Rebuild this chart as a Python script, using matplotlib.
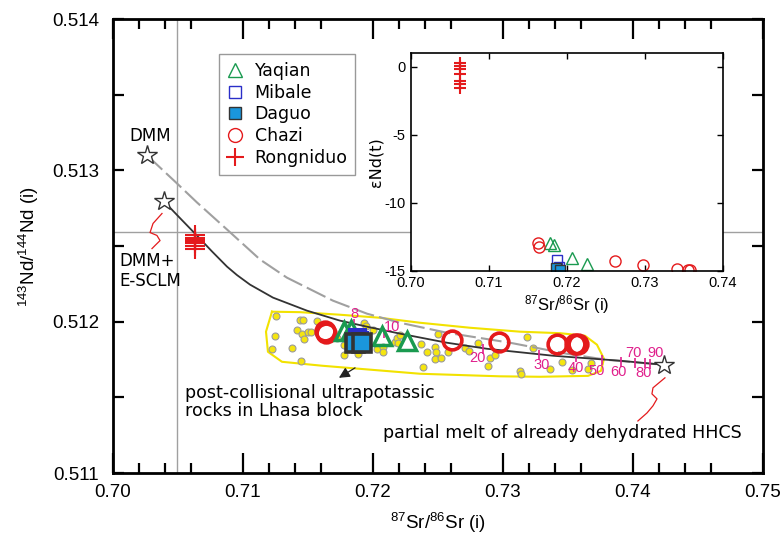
import matplotlib
matplotlib.use("Agg")
import matplotlib.pyplot as plt
from matplotlib.lines import Line2D

plt.rcParams['font.family'] = ['Liberation Sans', 'DejaVu Sans']
plt.rcParams['mathtext.fontset'] = 'custom'
plt.rcParams['mathtext.rm'] = 'Liberation Sans'
plt.rcParams['mathtext.it'] = 'Liberation Sans:italic'
WIDE = ['DejaVu Sans']

# ---- sample data (87Sr/86Sr shared by main plot and inset) ----
yaqian_sr = [0.7178, 0.7183, 0.7207, 0.7226]
yaqian_nd = [0.511940, 0.511947, 0.511907, 0.511874]
yaqian_end = [-12.94, -13.11, -14.04, -14.53]

mibale_sr = [0.71877, 0.71892]
mibale_nd = [0.511901, 0.511881]
mibale_end = [-14.21, -14.70]

daguo_sr = [0.71862, 0.71915]
daguo_nd = [0.511861, 0.511861]
daguo_end = [-14.82, -14.92]

chazi_sr = [0.71632, 0.71641, 0.72610, 0.72970, 0.73415, 0.73556, 0.73577]
chazi_nd = [0.511940, 0.511925, 0.511881, 0.511868, 0.511854, 0.511854, 0.511854]
chazi_end = [-12.99, -13.28, -14.26, -14.58, -14.90, -14.92, -14.92]

rong_sr = [0.70631] * 7
rong_nd = [0.512570, 0.512553, 0.512545, 0.512536, 0.512520, 0.512500, 0.512481]
rong_sr_i = [0.70628] * 7
rong_end = [0.25, 0.05, -0.19, -0.49, -1.03, -1.27, -1.59]

# post-collisional ultrapotassic rocks (Lhasa block)
lhasa_sr = [0.71254, 0.71438, 0.71462, 0.71569, 0.71415, 0.71454, 0.71500, 0.71523,
            0.71469, 0.71246, 0.71223, 0.71377, 0.71446, 0.71723, 0.71777, 0.71777,
            0.71931, 0.71946, 0.72000, 0.72031, 0.72077, 0.72077, 0.71885, 0.72169,
            0.72185, 0.72192, 0.72208, 0.72369, 0.72415, 0.72477, 0.72485, 0.72477,
            0.72523, 0.72577, 0.72500, 0.72385, 0.72708, 0.72738, 0.72808, 0.72900,
            0.72938, 0.72885, 0.73185, 0.73231, 0.73454, 0.73362, 0.73131, 0.73138,
            0.73531, 0.73654, 0.73677]
lhasa_nd = [0.512040, 0.512013, 0.512013, 0.512007, 0.511947, 0.511921, 0.511934, 0.511934,
            0.511887, 0.511907, 0.511821, 0.511828, 0.511742, 0.511894, 0.511848, 0.511781,
            0.511993, 0.511974, 0.511947, 0.511821, 0.511834, 0.511801, 0.511788, 0.511868,
            0.511894, 0.511861, 0.511914, 0.511854, 0.511801, 0.511834, 0.511801, 0.511755,
            0.511762, 0.511801, 0.511921, 0.511702, 0.511828, 0.511808, 0.511861, 0.511762,
            0.511781, 0.511709, 0.511901, 0.511828, 0.511735, 0.511689, 0.511675, 0.511656,
            0.511682, 0.511689, 0.511728]

# envelope of the Lhasa field
env_sr = [0.71223, 0.71438, 0.71746, 0.72054, 0.72362, 0.72746, 0.73131, 0.73438, 0.73631,
          0.73723, 0.73777, 0.73754, 0.73654, 0.73285, 0.72977, 0.72362, 0.72092, 0.71608,
          0.71300, 0.71192, 0.71177, 0.71223]
env_nd = [0.512066, 0.512063, 0.512046, 0.512026, 0.511993, 0.511960, 0.511934, 0.511924,
          0.511907, 0.511848, 0.511755, 0.511675, 0.511642, 0.511636, 0.511639, 0.511656,
          0.511675, 0.511709, 0.511735, 0.511801, 0.511934, 0.512066]

# end members
dmm = (0.70262, 0.513099)
dmm_sclm = (0.70392, 0.512795)
hhcs = (0.74238, 0.511715)

# mixing curves
mix1_sr = [0.70392, 0.70515, 0.70638, 0.70762, 0.70877, 0.70954, 0.71054, 0.71231, 0.71492,
           0.71746, 0.71954, 0.72208, 0.72569, 0.72877, 0.73385, 0.73900, 0.74238]
mix1_nd = [0.512795, 0.512685, 0.512576, 0.512464, 0.512364, 0.512308, 0.512245, 0.512159,
           0.512073, 0.512007, 0.511967, 0.511921, 0.511861, 0.511821, 0.511775, 0.511742, 0.511715]
mix2_sr = [0.70262, 0.70492, 0.70646, 0.70885, 0.71131, 0.71338, 0.71692, 0.71954,
           0.72208, 0.72569, 0.73054, 0.73492, 0.73800, 0.74238]
mix2_nd = [0.513099, 0.512914, 0.512788, 0.512603, 0.512411, 0.512291, 0.512139, 0.512053,
           0.511993, 0.511927, 0.511861, 0.511788, 0.511748, 0.511715]

# melt-fraction marks on the mixing curve
frac_labels = ['8', '10', '20', '30', '40', '50', '60', '70', '80', '90']
frac_sr = [0.71854, 0.72085, 0.72846, 0.73277, 0.73562, 0.73762, 0.73908, 0.74015, 0.74092, 0.74131]
frac_nd = [0.511987, 0.511927, 0.511821, 0.511781, 0.511768, 0.511748, 0.511735, 0.511728, 0.511725, 0.511722]
frac_offsets = [(0, 7), (6, 4), (-4, -7), (2, -7), (0, -8), (-4, -8), (-2, -7), (-1, 7), (-1, -7), (4, 8)]

# red squiggles
sq1_sr = [0.70377, 0.70308, 0.70285, 0.70338, 0.70362, 0.70323, 0.70300]
sq1_nd = [0.512715, 0.512649, 0.512589, 0.512570, 0.512536, 0.512503, 0.512483]
sq2_sr = [0.74246, 0.74154, 0.74146, 0.74185, 0.74154, 0.74108, 0.74038]
sq2_nd = [0.511629, 0.511563, 0.511523, 0.511490, 0.511444, 0.511397, 0.511344]

sr_ref = 0.7049
nd_ref = 0.51259

GREEN = '#1a9a50'
BLUE_E = '#2a2ec8'
BLUE_F = '#1a96dc'
RED = '#e41a1c'
MAG = '#e0208c'

fig = plt.figure(figsize=(7.83, 5.36), dpi=100)
ax = fig.add_axes([0.1443, 0.1175, 0.8301, 0.8470])

ax.axvline(sr_ref, color='#a0a0a0', lw=1.0, zorder=1)
ax.axhline(nd_ref, color='#a0a0a0', lw=1.0, zorder=1)

ax.plot(env_sr, env_nd, color='#f2e200', lw=1.5, zorder=2)
ax.plot(lhasa_sr, lhasa_nd, 'o', ms=5, mfc='#f5e50f', mec='#9a9a9a', mew=0.8, zorder=3)

ax.plot(mix2_sr, mix2_nd, color='#a0a0a0', lw=1.5, dashes=(10, 2.5), zorder=4)
ax.plot(mix1_sr, mix1_nd, color='#333333', lw=1.3, zorder=4)

ax.plot(frac_sr, frac_nd, '|', ms=7, mew=1.2, color=MAG, zorder=5)
for lab, x, y, off in zip(frac_labels, frac_sr, frac_nd, frac_offsets):
    ax.annotate(lab, (x, y), xytext=off, textcoords='offset points',
                ha='center', va='center', fontsize=10.5, color=MAG, zorder=6)

for p in (dmm, dmm_sclm, hhcs):
    ax.plot(p[0], p[1], '*', ms=15, mfc='white', mec='#333333', mew=1.0, zorder=7)

ax.plot(sq1_sr, sq1_nd, color=RED, lw=0.9, zorder=5)
ax.plot(sq2_sr, sq2_nd, color=RED, lw=0.9, zorder=5)

ax.plot(chazi_sr, chazi_nd, 'o', ms=13.5, mfc='none', mec=RED, mew=2.6, zorder=8)
ax.plot(yaqian_sr, yaqian_nd, '^', ms=13.5, mfc='none', mec=GREEN, mew=2.5, zorder=8)
ax.plot(mibale_sr, mibale_nd, 's', ms=12, mfc='none', mec=BLUE_E, mew=2.2, zorder=8)
ax.plot(daguo_sr, daguo_nd, 's', ms=12.5, mfc=BLUE_F, mec='#333333', mew=2.6, zorder=9)
ax.plot(rong_sr, rong_nd, '+', ms=14, mec=RED, mew=1.5, zorder=8)

ax.text(0.70285, 0.513225, 'DMM', fontsize=12, ha='center', va='center', family=WIDE)
ax.text(0.7005, 0.512404, 'DMM+', fontsize=12, ha='left', va='center', family=WIDE)
ax.text(0.7005, 0.512272, 'E-SCLM', fontsize=12, ha='left', va='center', family=WIDE)
ax.text(0.70555, 0.51159, 'post-collisional ultrapotassic\nrocks in Lhasa block',
        fontsize=12.6, ha='left', va='top', linespacing=1.05, family=WIDE)
ax.text(0.74835, 0.511265, 'partial melt of already dehydrated HHCS',
        fontsize=12.6, ha='right', va='center', family=WIDE)
ax.annotate('', xy=(0.71738, 0.511629), xytext=(0.71862, 0.511695),
            arrowprops=dict(arrowstyle='-|>', color='#222222', lw=0.9,
                            mutation_scale=16, shrinkA=0, shrinkB=0))

ax.set_xlim(0.70, 0.75)
ax.set_ylim(0.511, 0.514)
ax.set_xticks([0.70, 0.71, 0.72, 0.73, 0.74, 0.75])
ax.set_xticklabels(['0.70', '0.71', '0.72', '0.73', '0.74', '0.75'])
ax.set_xticks([0.702 + 0.002 * i for i in range(24) if (i + 1) % 5 != 4], minor=True)
ax.set_yticks([0.511, 0.512, 0.513, 0.514])
ax.set_yticklabels(['0.511', '0.512', '0.513', '0.514'])
ax.set_yticks([0.5115, 0.5125, 0.5135], minor=True)
ax.tick_params(axis='both', which='both', direction='in', top=True, right=True, width=1.6)
ax.tick_params(axis='x', which='major', length=14.5, pad=8, labelsize=13.5)
ax.tick_params(axis='x', which='minor', length=7)
ax.tick_params(axis='y', which='both', length=8, pad=10, labelsize=13.5)
for s in ax.spines.values():
    s.set_linewidth(2.0)
ax.set_xlabel(r'$^{87}$Sr/$^{86}$Sr (i)', fontsize=13.5, labelpad=7)
ax.set_ylabel(r'$^{143}$Nd/$^{144}$Nd (i)', fontsize=13.5, labelpad=8)

# ---- inset ----
axi = fig.add_axes([0.5249, 0.4950, 0.3985, 0.4056])
axi.set_facecolor('white')
axi.set_zorder(10)
axi.plot(yaqian_sr, yaqian_end, '^', ms=8, mfc='none', mec=GREEN, mew=1.0)
axi.plot(mibale_sr, mibale_end, 's', ms=7, mfc='none', mec=BLUE_E, mew=1.0)
axi.plot(daguo_sr, daguo_end, 's', ms=7, mfc=BLUE_F, mec='#333333', mew=1.0)
axi.plot(chazi_sr, chazi_end, 'o', ms=8, mfc='none', mec=RED, mew=1.0)
axi.plot(rong_sr_i, rong_end, '+', ms=9, mec=RED, mew=1.5)
axi.set_xlim(0.70, 0.74)
axi.set_ylim(-15, 1)
axi.set_xticks([0.70, 0.71, 0.72, 0.73, 0.74])
axi.set_xticklabels(['0.70', '0.71', '0.72', '0.73', '0.74'])
axi.set_yticks([0, -5, -10, -15])
axi.set_yticklabels(['0', '-5', '-10', '-15'])
axi.tick_params(direction='in', top=True, right=True, length=4, width=1.0, labelsize=10.5, pad=4)
for s in axi.spines.values():
    s.set_linewidth(1.2)
axi.set_xlabel(r'$^{87}$Sr/$^{86}$Sr (i)', fontsize=12, labelpad=2)
axi.set_ylabel('\u03b5Nd(t)', fontsize=11.5, labelpad=0.5, family=WIDE)

legend_handles = [
    Line2D([], [], ls='none', marker='^', ms=10, mfc='none', mec=GREEN, mew=1.0),
    Line2D([], [], ls='none', marker='s', ms=9, mfc='none', mec=BLUE_E, mew=1.0),
    Line2D([], [], ls='none', marker='s', ms=9, mfc=BLUE_F, mec='#333333', mew=1.0),
    Line2D([], [], ls='none', marker='o', ms=10, mfc='none', mec=RED, mew=1.0),
    Line2D([], [], ls='none', marker='+', ms=13, mec=RED, mew=1.5),
]
leg = ax.legend(legend_handles, ['Yaqian', 'Mibale', 'Daguo', 'Chazi', 'Rongniduo'],
                loc='upper left', bbox_to_anchor=(0.163, 0.923), borderaxespad=0,
                prop={'family': WIDE, 'size': 12.5}, frameon=True, fancybox=False,
                framealpha=1, edgecolor='#999999', handlelength=1.0, handletextpad=0.6,
                labelspacing=0.22, borderpad=0.45)
leg.get_frame().set_linewidth(1.0)
leg.set_zorder(12)

fig.savefig('out.png', dpi=100)
